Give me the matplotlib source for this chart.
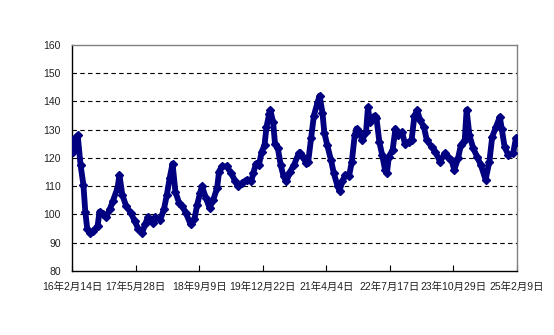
import numpy as np
import pandas as pd
import matplotlib
matplotlib.use("Agg")
import matplotlib.pyplot as plt

plt.rcParams["font.family"] = ["Liberation Sans", "Noto Sans CJK JP", "DejaVu Sans"]

# weekly series, x = weeks since START
START = "2016-02-14"
WEEKS = [0, 1, 3, 4, 6, 9, 12, 14, 16, 19, 22, 27, 29, 33, 36, 40, 43, 48, 50, 53,
         57, 62, 66, 70, 74, 77, 80, 85, 88, 93, 97, 100, 103, 106, 109, 113, 116, 120,
         125, 129, 132, 135, 137, 141, 145, 149, 153, 155, 158, 163, 168, 172, 175, 179,
         184, 189, 191, 194, 197, 200, 203, 205, 208, 209, 212, 214, 217, 220, 223, 226,
         230, 234, 239, 240, 243, 247, 249, 252, 255, 259, 261, 264, 266, 269, 273, 276,
         280, 282, 285, 288, 292, 295, 298, 300, 303, 306, 310, 312, 314, 319, 321, 324,
         327, 330, 332, 334, 338, 341, 344, 348, 351, 355, 358, 361, 364, 367, 371, 374,
         379, 383, 388, 393, 397, 400, 403, 407, 410, 414, 416, 419, 423, 427, 431, 436,
         440, 443, 447, 451, 453, 456, 460, 465, 468, 469]
VALUES = [125, 122, 127, 123, 128, 117.5, 110.5, 101, 95, 93.5, 94, 96, 101, 100, 99, 102,
          104.7, 109.4, 114, 107, 103, 100.6, 97.7, 94.8, 93.6, 96.5, 99, 97, 99, 98, 102,
          107, 113, 118, 108, 104, 103, 100.6, 96.5, 98.3, 103.5, 107.6, 110, 106, 102.3,
          105.3, 109.4, 115.2, 117, 117, 114.6, 111.7, 110, 111, 112.3, 111.7, 114.6, 118,
          117.5, 122.2, 124.6, 131, 135.7, 137, 132.7, 125, 123.4, 117.5, 113.5, 111.7,
          115.2, 117.5, 121.6, 121.6, 120.5, 118.1, 118.7, 127, 135, 139.8, 142, 136, 129,
          124.6, 119.3, 114.6, 110, 108.4, 111.7, 114, 113.5, 118.7, 128, 130.4, 129.2,
          126.3, 129.2, 138, 132.7, 135, 134, 125.7, 121, 115.8, 114.6, 120.5, 122.8, 130.4,
          128, 129.2, 125, 125.7, 126.3, 135, 136.8, 133.3, 131, 126.3, 124, 122.2, 118.7,
          121.6, 119.9, 119.3, 115.8, 119.9, 124.6, 126.3, 137, 128, 123.4, 120.5, 117.5,
          112.3, 118.7, 127.5, 131, 134.5, 130.4, 124, 121, 121.6, 127, 125.8]

TICK_DATES = ["2016-02-14", "2017-05-28", "2018-09-09", "2019-12-22",
              "2021-04-04", "2022-07-17", "2023-10-29", "2025-02-09"]
TICK_LABELS = ["16年2月14日", "17年5月28日", "18年9月9日", "19年12月22日",
               "21年4月4日", "22年7月17日", "23年10月29日", "25年2月9日"]

dates = pd.Timestamp(START) + pd.to_timedelta(np.array(WEEKS) * 7, unit="D")
ticks = pd.to_datetime(TICK_DATES)

fig = plt.figure(figsize=(5.54, 3.35), dpi=100)
ax = fig.add_axes([0.130, 0.191, 0.803, 0.675])

ax.plot(dates, VALUES, color="#000080", lw=4.2, marker="D", ms=3.6,
        solid_joinstyle="round", zorder=3)

ax.set_ylim(80, 160)
ax.set_yticks(np.arange(80, 161, 10))
ax.set_xlim(ticks[0], ticks[-1])
ax.set_xticks(ticks)
ax.set_xticklabels(TICK_LABELS)

for v in range(90, 160, 10):
    ax.axhline(v, color="k", lw=0.8, ls=(0, (4, 3)), zorder=1)

for s in ["left", "bottom"]:
    ax.spines[s].set_color("black")
    ax.spines[s].set_linewidth(1.0)
for s in ["top", "right"]:
    ax.spines[s].set_color("#808080")
    ax.spines[s].set_linewidth(1.0)

ax.tick_params(axis="x", direction="in", length=4, width=0.8, pad=8,
               labelsize=7.5, labelcolor="#222222")
ax.tick_params(axis="y", length=0, pad=8, labelsize=7.5, labelcolor="#222222")

fig.savefig("out.png", dpi=100)
